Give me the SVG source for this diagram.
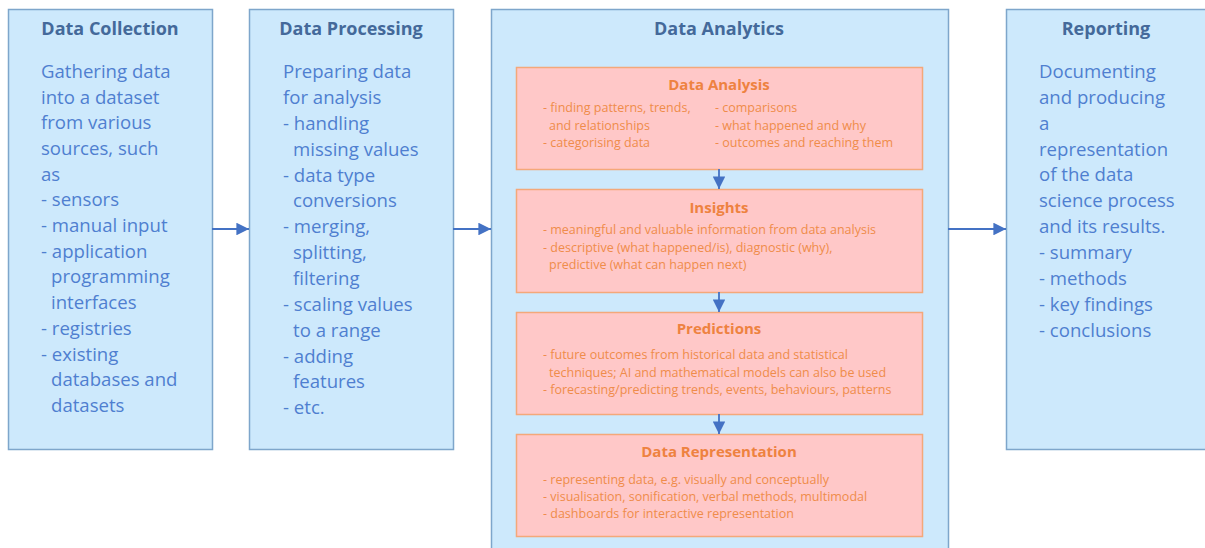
<svg xmlns="http://www.w3.org/2000/svg" width="1205" height="548" viewBox="0 0 1205 548">
<style>
.outer{fill:#cde9fc;stroke:#7ea6cb;stroke-width:1.5}
.inner{fill:#ffc8c8;stroke:#f4a87a;stroke-width:1.5}
.t{font-family:"Open Sans","Liberation Sans",sans-serif;font-weight:bold;font-size:18px;fill:#44699a;text-anchor:middle}
.b{font-family:"Open Sans","Liberation Sans",sans-serif;font-size:18.6px;fill:#4f7fd0}
.it{font-family:"Open Sans","Liberation Sans",sans-serif;font-weight:bold;font-size:15px;fill:#ee8240;text-anchor:middle}
.ib{font-family:"Open Sans","Liberation Sans",sans-serif;font-size:12.5px;fill:#ef8c4a}
.c{stroke:#4472c4;stroke-width:1.8;fill:none}
</style>
<defs>
<marker id="ah" viewBox="0 0 10 10" refX="10" refY="5" markerWidth="7" markerHeight="7" markerUnits="strokeWidth" orient="auto"><path d="M0,0 L10,5 L0,10 z" fill="#4472c4"/></marker>
</defs>
<rect width="1205" height="548" fill="#ffffff"/>
<g id="collection">
<rect class="outer" x="8.5" y="9.5" width="204" height="440"/>
<text class="t" x="110" y="35">Data Collection</text>
<text class="b" x="41" y="78">Gathering data</text>
<text class="b" x="41" y="104">into a dataset</text>
<text class="b" x="41" y="129">from various</text>
<text class="b" x="41" y="155">sources, such</text>
<text class="b" x="41" y="181">as</text>
<text class="b" x="41" y="206">- sensors</text>
<text class="b" x="41" y="232">- manual input</text>
<text class="b" x="41" y="258">- application</text>
<text class="b" x="51" y="283">programming</text>
<text class="b" x="51" y="309">interfaces</text>
<text class="b" x="41" y="335">- registries</text>
<text class="b" x="41" y="361">- existing</text>
<text class="b" x="51" y="386">databases and</text>
<text class="b" x="51" y="412">datasets</text>
</g>
<g id="processing">
<rect class="outer" x="249.5" y="9.5" width="204" height="440"/>
<text class="t" x="351" y="35">Data Processing</text>
<text class="b" x="283" y="78">Preparing data</text>
<text class="b" x="283" y="104">for analysis</text>
<text class="b" x="283" y="130">- handling</text>
<text class="b" x="293" y="156">missing values</text>
<text class="b" x="283" y="182">- data type</text>
<text class="b" x="293" y="207">conversions</text>
<text class="b" x="283" y="233">- merging,</text>
<text class="b" x="293" y="259">splitting,</text>
<text class="b" x="293" y="285">filtering</text>
<text class="b" x="283" y="311">- scaling values</text>
<text class="b" x="293" y="337">to a range</text>
<text class="b" x="283" y="363">- adding</text>
<text class="b" x="293" y="388">features</text>
<text class="b" x="283" y="414">- etc.</text>
</g>
<g id="analytics">
<rect class="outer" x="491.5" y="9.5" width="457" height="545"/>
<text class="t" x="719" y="35">Data Analytics</text>
</g>
<g id="analysis">
<rect class="inner" x="516.5" y="67.5" width="406" height="102"/>
<text class="it" x="719" y="90">Data Analysis</text>
<text class="ib" x="543" y="112">- finding patterns, trends,</text>
<text class="ib" x="549" y="130">and relationships</text>
<text class="ib" x="543" y="147">- categorising data</text>
<text class="ib" x="715" y="112">- comparisons</text>
<text class="ib" x="715" y="130">- what happened and why</text>
<text class="ib" x="715" y="147">- outcomes and reaching them</text>
</g>
<g id="insights">
<rect class="inner" x="516.5" y="189.5" width="406" height="103"/>
<text class="it" x="719" y="213">Insights</text>
<text class="ib" x="543" y="234">- meaningful and valuable information from data analysis</text>
<text class="ib" x="543" y="252">- descriptive (what happened/is), diagnostic (why),</text>
<text class="ib" x="549" y="269">predictive (what can happen next)</text>
</g>
<g id="predictions">
<rect class="inner" x="516.5" y="312.5" width="406" height="102"/>
<text class="it" x="719" y="334">Predictions</text>
<text class="ib" x="543" y="359">- future outcomes from historical data and statistical</text>
<text class="ib" x="549" y="377">techniques; AI and mathematical models can also be used</text>
<text class="ib" x="543" y="394">- forecasting/predicting trends, events, behaviours, patterns</text>
</g>
<g id="representation">
<rect class="inner" x="516.5" y="434.5" width="406" height="102"/>
<text class="it" x="719" y="457">Data Representation</text>
<text class="ib" x="543" y="484">- representing data, e.g. visually and conceptually</text>
<text class="ib" x="543" y="501">- visualisation, sonification, verbal methods, multimodal</text>
<text class="ib" x="543" y="518">- dashboards for interactive representation</text>
</g>
<g id="reporting">
<rect class="outer" x="1006.5" y="9.5" width="210" height="440"/>
<text class="t" x="1106" y="35">Reporting</text>
<text class="b" x="1039" y="78">Documenting</text>
<text class="b" x="1039" y="104">and producing</text>
<text class="b" x="1039" y="130">a</text>
<text class="b" x="1039" y="156">representation</text>
<text class="b" x="1039" y="181">of the data</text>
<text class="b" x="1039" y="207">science process</text>
<text class="b" x="1039" y="233">and its results.</text>
<text class="b" x="1039" y="259">- summary</text>
<text class="b" x="1039" y="285">- methods</text>
<text class="b" x="1039" y="311">- key findings</text>
<text class="b" x="1039" y="337">- conclusions</text>
</g>
<g id="connectors">
<line class="c" x1="212" y1="229" x2="249" y2="229" marker-end="url(#ah)"/>
<line class="c" x1="453" y1="229" x2="491" y2="229" marker-end="url(#ah)"/>
<line class="c" x1="948" y1="229" x2="1006" y2="229" marker-end="url(#ah)"/>
<line class="c" x1="719" y1="169" x2="719" y2="189" marker-end="url(#ah)"/>
<line class="c" x1="719" y1="292" x2="719" y2="312" marker-end="url(#ah)"/>
<line class="c" x1="719" y1="414" x2="719" y2="434" marker-end="url(#ah)"/>
</g>
</svg>
